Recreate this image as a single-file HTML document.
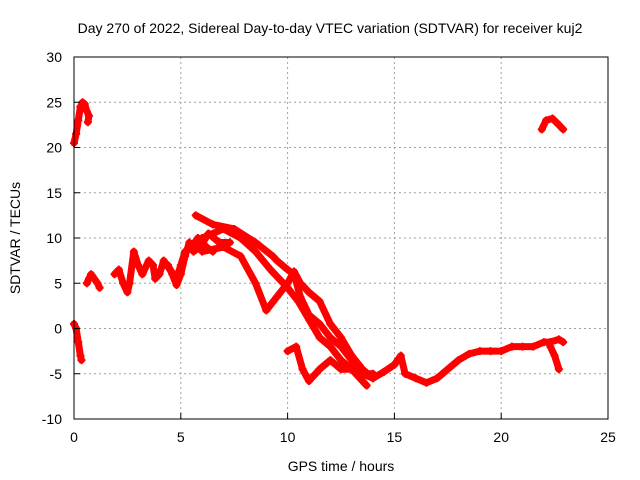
<!DOCTYPE html>
<html><head><meta charset="utf-8"><style>
body{margin:0;background:#fff;}
svg{display:block;font-family:"Liberation Sans",sans-serif;}
</style></head><body>
<svg id="chart" width="640" height="480">
<rect width="640" height="480" fill="#fff"/>
<text x="330" y="33" font-size="14" text-anchor="middle" fill="#000">Day 270 of 2022, Sidereal Day-to-day VTEC variation (SDTVAR) for receiver kuj2</text>
<text x="341" y="471" font-size="14" text-anchor="middle">GPS time / hours</text>
<text transform="translate(20,238) rotate(-90)" font-size="14" text-anchor="middle">SDTVAR / TECUs</text>
<g id="grid"></g>
<g id="marks"></g>
<rect x="74" y="57" width="534" height="362" fill="none" stroke="#000"/>
<g id="ticks"></g>
</svg>
<script>
const xTicks=[0,5,10,15,20,25];
const yTicks=[-10,-5,0,5,10,15,20,25,30];
const trackA=[[0,20.5],[0.1,21.5],[0.2,23],[0.3,24.5],[0.4,25],[0.5,24.8],[0.6,24],[0.7,23.5],[0.65,22.8]];
const trackB=[[0,0.5],[0.1,0],[0.2,-1.5],[0.3,-3],[0.35,-3.5]];
const trackC=[[0.6,5],[0.7,5.5],[0.8,6],[1.1,5],[1.2,4.5]];
const trackD=[[1.9,6],[2.1,6.5],[2.3,5],[2.5,4],[2.6,5],[2.8,8.5],[3,7],[3.2,6],[3.5,7.5],[3.7,7],[3.8,5.5],[4,6],[4.2,7.5],[4.5,6.5],[4.8,5.5],[5,7],[5.2,8.5],[5.5,9],[5.8,10],[6.2,9],[6.5,8.5]];
const trackE=[[4.4,7],[4.6,6],[4.8,4.8],[5,6],[5.2,8],[5.4,9.5],[5.6,8.5],[5.9,9],[6.3,10.5],[6.8,9.5],[7.3,9.5]];
const band1=[[5.7,12.5],[6.5,11.5],[7.5,11],[8.5,9.5],[9.3,8],[9.5,7.5],[10,6.5],[10.3,6],[10.6,3.5],[11,1.5],[11.5,0.5],[12,-1],[12.5,-2],[13,-3.5],[13.5,-5],[14,-5]];
const band2=[[6,10],[7,11],[7.8,10],[8.5,8.5],[9.2,6.5],[10,4.5],[10.5,3],[11,1],[11.5,-1],[12,-2],[12.5,-3.5],[13,-4.5],[13.7,-6.3]];
const band3=[[6,8.5],[7,9],[7.8,8],[8.5,5],[9,2],[9.5,3.5],[10,5],[10.3,6.3],[10.6,5],[11,4],[11.5,3],[12,0.5],[12.5,-1],[13,-3],[13.5,-4.5],[14,-5.5]];
const band4=[[10,-2.5],[10.4,-2],[10.7,-4.5],[11,-5.8],[11.5,-4.5],[12,-3.5],[12.5,-4.5],[13,-4.5]];
const band5=[[13.5,-5],[14,-5.5],[14.5,-4.8],[15,-4],[15.3,-3],[15.5,-5],[16,-5.5],[16.5,-6],[17,-5.5],[17.5,-4.5],[18,-3.5],[18.5,-2.8],[19,-2.5],[19.5,-2.5],[20,-2.5],[20.5,-2],[21,-2],[21.5,-2],[22,-1.5],[22.3,-1.5],[22.7,-1.2],[22.9,-1.5]];
const band5b=[[22.3,-2],[22.5,-3],[22.7,-4.5]];
const band6=[[21.9,22],[22.1,23],[22.4,23.2],[22.7,22.5],[22.9,22]];
const series=[trackA,trackB,trackC,trackD,trackE,band1,band2,band3,band4,band5,band5b,band6];
const NS="http://www.w3.org/2000/svg";
const X=v=>74+v*534/25, Y=v=>419-(v+10)*362/40;
const grid=document.getElementById('grid'),ticks=document.getElementById('ticks'),marks=document.getElementById('marks');
function mk(tag,at,parent){const e=document.createElementNS(NS,tag);for(const k in at)e.setAttribute(k,at[k]);parent.appendChild(e);return e;}
xTicks.forEach(t=>{
 if(t>0&&t<25){const g=mk('line',{x1:X(t),x2:X(t),y1:57,y2:419,stroke:'#a0a0a0','stroke-dasharray':'2,3'},grid);
 
 }
 const l=mk('line',{x1:X(t),x2:X(t),y1:419,y2:413,stroke:'#000'},ticks);
 
 
 const tx=mk('text',{x:X(t),y:442,'font-size':14,'text-anchor':'middle'},ticks);tx.textContent=t;
 
 
});
yTicks.forEach(t=>{
 if(t>-10&&t<30){const g=mk('line',{x1:74,x2:608,y1:Y(t),y2:Y(t),stroke:'#a0a0a0','stroke-dasharray':'2,3'},grid);
 
 }
 const l=mk('line',{x1:74,x2:80,y1:Y(t),y2:Y(t),stroke:'#000'},ticks);
 
 
 const tx=mk('text',{x:62,y:Y(t)+5,'font-size':14,'text-anchor':'end'},ticks);tx.textContent=t;
 
 
});
series.forEach(s=>{
 const p=mk('polyline',{points:s.map(d=>X(d[0])+','+Y(d[1])).join(' '),fill:'none',stroke:'#f00','stroke-width':7,'stroke-linejoin':'round','stroke-linecap':'round'},marks);
 
 
 s.forEach(d=>{
  const m=mk('path',{d:`M${X(d[0])-4},${Y(d[1])}h8M${X(d[0])},${Y(d[1])-4}v8`,stroke:'#f00','stroke-width':2},marks);
  
  
 });
});
</script>
</body></html>
